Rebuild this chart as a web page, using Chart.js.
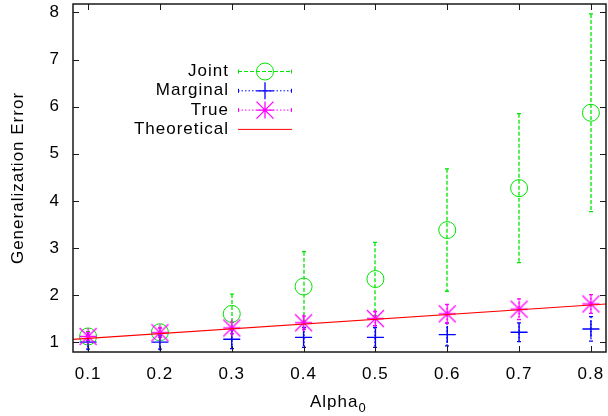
<!DOCTYPE html>
<html>
<head>
<meta charset="utf-8">
<script src="https://cdn.jsdelivr.net/npm/chart.js@4"></script>
<style>
  body { margin: 0; background: #fff; }
  canvas { display: block; }
</style>
</head>
<body>
<canvas id="chart" width="608" height="416"></canvas>
<script>
// Alpha_0 values on the x axis
const alpha = [0.1, 0.2, 0.3, 0.4, 0.5, 0.6, 0.7, 0.8];

// Series values, with error bar half widths
const joint = [1.12, 1.21, 1.6, 2.18, 2.34, 3.38, 4.27, 5.87];
const jointErr = [0.1, 0.1, 0.42, 0.74, 0.78, 1.3, 1.58, 2.1];
const marginal = [1.0, 1.0, 1.06, 1.1, 1.1, 1.16, 1.21, 1.28];
const marginalErr = [0.15, 0.15, 0.2, 0.21, 0.21, 0.24, 0.2, 0.26];
const trueVals = [1.12, 1.2, 1.3, 1.41, 1.5, 1.6, 1.7, 1.81];
const trueErr = [0.08, 0.1, 0.12, 0.14, 0.15, 0.2, 0.22, 0.2];

// Theoretical line end points (runs across the whole plot)
const theoX = [0.079, 0.821];
const theoY = [1.057, 1.809];

// Tick labels
const xTicks = [0.1, 0.2, 0.3, 0.4, 0.5, 0.6, 0.7, 0.8];
const yTicks = [1, 2, 3, 4, 5, 6, 7, 8];

const FONT = "'Liberation Sans', Arial, sans-serif";
const GREEN = "#00e600";
const BLUE = "#0000ff";
const MAGENTA = "#ff00ff";
const RED = "#ff0000";

const toPoints = (xs, ys) => xs.map((x, i) => ({ x: x, y: ys[i] }));

// Error bar series, drawn by the plugin below
const errorSeries = [
  { vals: joint, errs: jointErr, color: GREEN, dash: [4, 2] },
  { vals: marginal, errs: marginalErr, color: BLUE, dash: [1.5, 2] },
  { vals: trueVals, errs: trueErr, color: MAGENTA, dash: [1.5, 2] }
];

// Legend entries
const legendItems = [
  { label: "Joint", color: GREEN, dash: [4, 2], marker: "circle" },
  { label: "Marginal", color: BLUE, dash: [1.5, 2], marker: "plus" },
  { label: "True", color: MAGENTA, dash: [1.5, 2], marker: "star" },
  { label: "Theoretical", color: RED, dash: [], marker: null }
];

function drawMarker(ctx, type, x, y, r, color) {
  ctx.save();
  ctx.strokeStyle = color;
  ctx.lineWidth = type === "circle" ? 1 : 1.3;
  ctx.setLineDash([]);
  ctx.beginPath();
  if (type === "circle") {
    ctx.arc(x, y, r, 0, Math.PI * 2);
  } else {
    ctx.moveTo(x - r, y); ctx.lineTo(x + r, y);
    ctx.moveTo(x, y - r); ctx.lineTo(x, y + r);
    if (type === "star") {
      // gnuplot's star: the diagonals reach the corners of the box
      ctx.moveTo(x - r, y - r); ctx.lineTo(x + r, y + r);
      ctx.moveTo(x - r, y + r); ctx.lineTo(x + r, y - r);
    }
  }
  ctx.stroke();
  ctx.restore();
}

// star marker as an image so Chart.js can use it as pointStyle
const starImg = document.createElement("canvas");
starImg.width = 21;
starImg.height = 21;
drawMarker(starImg.getContext("2d"), "star", 10.5, 10.5, 8.5, MAGENTA);

const gnuplotLook = {
  id: "gnuplotLook",
  beforeDraw(chart) {
    const ctx = chart.ctx;
    ctx.save();
    ctx.fillStyle = "#fff";
    ctx.fillRect(0, 0, chart.width, chart.height);
    ctx.restore();
    ctx.letterSpacing = "1px";
  },
  beforeDatasetsDraw(chart) {
    const ctx = chart.ctx;
    const xs = chart.scales.x, ys = chart.scales.y;
    const area = chart.chartArea;
    ctx.save();
    ctx.beginPath();
    ctx.rect(area.left, area.top, area.right - area.left, area.bottom - area.top);
    ctx.clip();
    ctx.lineWidth = 1.3;
    errorSeries.forEach(s => {
      ctx.strokeStyle = s.color;
      alpha.forEach((a, i) => {
        const px = Math.round(xs.getPixelForValue(a));
        const top = ys.getPixelForValue(s.vals[i] + s.errs[i]);
        const bot = ys.getPixelForValue(s.vals[i] - s.errs[i]);
        ctx.setLineDash(s.dash);
        ctx.beginPath();
        ctx.moveTo(px, top); ctx.lineTo(px, bot);
        ctx.stroke();
        ctx.setLineDash([]);
        ctx.beginPath();
        ctx.moveTo(px - 2, top); ctx.lineTo(px + 2, top);
        ctx.moveTo(px - 2, bot); ctx.lineTo(px + 2, bot);
        ctx.stroke();
      });
    });
    ctx.restore();
  },
  afterDatasetsDraw(chart) {
    const ctx = chart.ctx;
    const xs = chart.scales.x, ys = chart.scales.y;
    const a = chart.chartArea;
    ctx.save();
    ctx.strokeStyle = "#1a1a1a";
    ctx.lineWidth = 1.5;
    ctx.strokeRect(a.left, a.top, a.right - a.left, a.bottom - a.top);
    // inward ticks on all four sides
    ctx.lineWidth = 1;
    ctx.beginPath();
    xTicks.forEach(v => {
      const px = Math.round(xs.getPixelForValue(v)) + 0.5;
      ctx.moveTo(px, a.bottom); ctx.lineTo(px, a.bottom - 6);
      ctx.moveTo(px, a.top); ctx.lineTo(px, a.top + 6);
    });
    yTicks.forEach(v => {
      const py = Math.round(ys.getPixelForValue(v)) + 0.5;
      ctx.moveTo(a.left, py); ctx.lineTo(a.left + 6, py);
      ctx.moveTo(a.right, py); ctx.lineTo(a.right - 6, py);
    });
    ctx.stroke();
    ctx.restore();
  },
  afterDraw(chart) {
    const ctx = chart.ctx;
    ctx.save();
    ctx.letterSpacing = "1px";
    // legend
    legendItems.forEach((item, i) => {
      const y = 71.5 + i * 19.3;
      ctx.fillStyle = "#000";
      ctx.font = "17px " + FONT;
      ctx.textAlign = "right";
      ctx.textBaseline = "middle";
      ctx.fillText(item.label, 229, y);
      ctx.strokeStyle = item.color;
      ctx.lineWidth = 1;
      ctx.setLineDash(item.dash);
      ctx.beginPath();
      ctx.moveTo(238, y); ctx.lineTo(292, y);
      ctx.stroke();
      ctx.setLineDash([]);
      if (item.marker) {
        ctx.beginPath();
        ctx.moveTo(238.5, y - 2); ctx.lineTo(238.5, y + 2);
        ctx.moveTo(291.5, y - 2); ctx.lineTo(291.5, y + 2);
        ctx.stroke();
        drawMarker(ctx, item.marker, 265, y, 8.5, item.color);
      }
    });
    // x axis title with subscript
    ctx.fillStyle = "#000";
    ctx.textAlign = "left";
    ctx.textBaseline = "alphabetic";
    ctx.font = "17px " + FONT;
    const w = ctx.measureText("Alpha").width;
    ctx.fillText("Alpha", 310, 407);
    ctx.font = "13px " + FONT;
    ctx.fillText("0", 310 + w, 412);
    ctx.restore();
  }
};

new Chart(document.getElementById("chart"), {
  type: "scatter",
  data: {
    datasets: [
      {
        label: "Joint", data: toPoints(alpha, joint), order: 4,
        pointStyle: "circle", pointRadius: 8.5, borderColor: GREEN,
        backgroundColor: "transparent", borderWidth: 1
      },
      {
        label: "Marginal", data: toPoints(alpha, marginal), order: 3,
        pointStyle: "cross", pointRadius: 8.5, borderColor: BLUE,
        backgroundColor: "transparent", borderWidth: 1.4
      },
      {
        label: "True", data: toPoints(alpha, trueVals), order: 2,
        pointStyle: starImg, pointRadius: 8.5, borderColor: MAGENTA,
        backgroundColor: "transparent", borderWidth: 1
      },
      {
        label: "Theoretical", data: toPoints(theoX, theoY), order: 1,
        showLine: true, pointRadius: 0, borderColor: RED, borderWidth: 1.2
      }
    ]
  },
  options: {
    responsive: false,
    animation: false,
    devicePixelRatio: 1,
    layout: { autoPadding: false, padding: { top: 4, right: 2, left: 0, bottom: 0 } },
    plugins: { legend: { display: false }, tooltip: { enabled: false } },
    scales: {
      x: {
        type: "linear", min: 0.079, max: 0.821,
        grid: { display: false, drawTicks: false },
        border: { display: false },
        ticks: {
          color: "#000", padding: 12, font: { family: FONT, size: 17 },
          callback: v => v.toFixed(1)
        },
        afterBuildTicks: axis => { axis.ticks = xTicks.map(v => ({ value: v })); },
        afterFit: axis => {
          axis.height = 64;
          axis.paddingLeft = 0;
          axis.paddingRight = 0;
        }
      },
      y: {
        type: "linear", min: 0.79, max: 8.18,
        grid: { display: false, drawTicks: false },
        border: { display: false },
        ticks: {
          color: "#000", padding: 13, font: { family: FONT, size: 17 },
          callback: v => String(v)
        },
        afterBuildTicks: axis => { axis.ticks = yTicks.map(v => ({ value: v })); },
        afterFit: axis => {
          axis.width = 73;
          axis.paddingTop = 0;
          axis.paddingBottom = 0;
        },
        title: {
          display: true, text: "Generalization Error", color: "#000",
          font: { family: FONT, size: 17 }, padding: { top: 8, bottom: 0 }
        }
      }
    }
  },
  plugins: [gnuplotLook]
});
</script>
</body>
</html>
